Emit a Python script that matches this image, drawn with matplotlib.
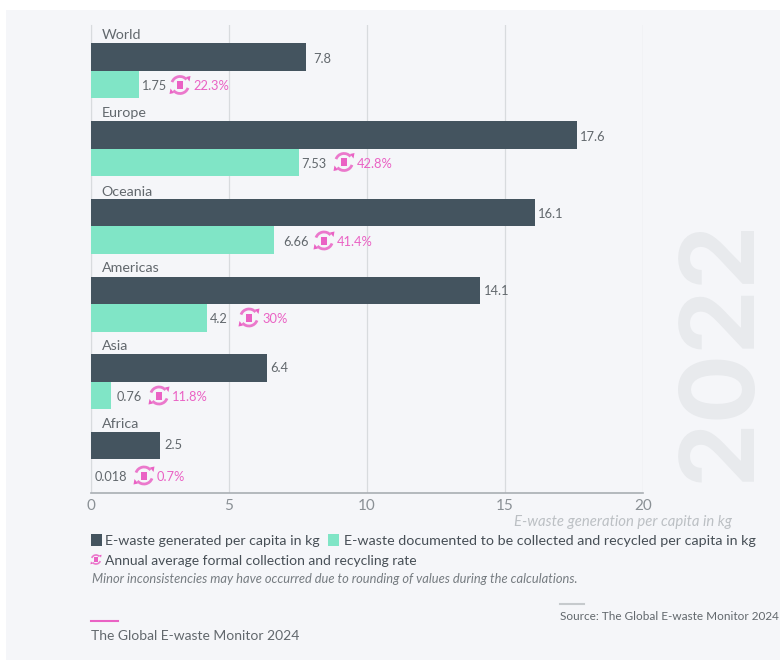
import matplotlib
matplotlib.use('Agg')
import matplotlib.pyplot as plt
from matplotlib.patches import Arc, Rectangle, Polygon

regions = ['World', 'Europe', 'Oceania', 'Americas', 'Asia', 'Africa']
generated = [7.8, 17.6, 16.1, 14.1, 6.4, 2.5]
documented = [1.75, 7.53, 6.66, 4.2, 0.76, 0.018]
doc_labels = ['1.75', '7.53', '6.66', '4.2', '0.76', '0.018']
rates = ['22.3%', '42.8%', '41.4%', '30%', '11.8%', '0.7%']
xticks = [0, 5, 10, 15, 20]

DARK = '#44545f'
TEAL = '#80e5c6'
PINK = '#ea62c4'
TEXT = '#62686d'
BG = '#f5f6f9'
W, H = 780, 661

plt.rcParams['font.family'] = ['Lato', 'DejaVu Sans']

fig = plt.figure(figsize=(W / 100, H / 100), dpi=100, facecolor='white')

# everything that is not a data mark is placed in pixel coordinates
over = fig.add_axes([0, 0, 1, 1], zorder=3)
over.set_xlim(0, W)
over.set_ylim(H, 0)
over.axis('off')
over.patch.set_alpha(0)

back = fig.add_axes([0, 0, 1, 1], zorder=0)
back.set_xlim(0, W)
back.set_ylim(H, 0)
back.axis('off')
back.add_patch(Rectangle((6, 10), W - 6, 650, fc=BG, ec='none'))
back.text(722, 350, '2022', rotation=90, fontsize=74, fontweight='bold',
          color='#e8eaed', ha='center', va='center', family='Inter')

left, right, top, bottom = 90.5, 643, 25, 492.5
ax = fig.add_axes([left / W, 1 - bottom / H, (right - left) / W, (bottom - top) / H], zorder=2)
ax.patch.set_alpha(0)

rows = list(range(len(regions)))
h = 0.354
ax.barh([r - h / 2 for r in rows], generated, height=h, color=DARK, zorder=3)
ax.barh([r + h / 2 for r in rows], documented, height=h, color=TEAL, zorder=3)
ax.set_xlim(0, 20)
ax.set_ylim(5.425, -0.59)
ax.set_xticks(xticks)
ax.set_xticklabels(xticks, fontsize=11, color='#8a9095')
ax.set_yticks([])
ax.tick_params(axis='x', length=0, pad=5)
ax.grid(axis='x', color='#d8dbde', lw=0.9, zorder=0)
for s in ['top', 'right']:
    ax.spines[s].set_visible(False)
ax.spines['left'].set_color('#d8dbde')
ax.spines['bottom'].set_color('#a9aeb3')
ax.spines['bottom'].set_linewidth(1.2)


def recycle_icon(a, cx, cy, r=8.5, lw=2.0):
    # ring of two arcs with arrow heads and a filled square in the middle
    s = r / 8.5
    a.add_patch(Arc((cx, cy), 2 * r, 2 * r, theta1=20, theta2=140, color=PINK, lw=lw, alpha=0.85))
    a.add_patch(Arc((cx, cy), 2 * r, 2 * r, theta1=200, theta2=320, color=PINK, lw=lw, alpha=0.85))
    a.add_patch(Polygon([(cx + 6 * s, cy - 8 * s), (cx + 10.5 * s, cy - 9 * s), (cx + 9.5 * s, cy - 3.5 * s)],
                        fc=PINK, ec='none'))
    a.add_patch(Polygon([(cx - 6 * s, cy + 8 * s), (cx - 10.5 * s, cy + 9 * s), (cx - 9.5 * s, cy + 3.5 * s)],
                        fc=PINK, ec='none'))
    a.add_patch(Rectangle((cx - 3.2 * s, cy - 4 * s), 6.4 * s, 8 * s, fc=PINK, ec='none'))


# pixel positions of the labels in each row
gen_offset = [7, 3, 3, 4, 3, 5]
doc_x = [141, 301, 283, 210, 117, 95]
icon_x = [180, 344, 324, 249, 159, 144]
rate_x = [193, 357, 337, 262, 172, 157]
row_y = [86.5, 163.5, 242, 319, 397, 477]
gen_y = [59, 137, 214, 291, 368, 445]
name_y = [35, 113, 192, 268, 346, 424]

for i, name in enumerate(regions):
    over.text(101.5, name_y[i], name, fontsize=10.3, color=TEXT, va='center')
    over.text(left + generated[i] * 27.63 + gen_offset[i], gen_y[i], str(generated[i]), fontsize=9.3,
              color=TEXT, va='center')
    over.text(doc_x[i], row_y[i], doc_labels[i], fontsize=9.2, color=TEXT, va='center')
    recycle_icon(over, icon_x[i], row_y[i] - 1.5)
    over.text(rate_x[i], row_y[i], rates[i], fontsize=9.3, color=PINK, va='center')

over.text(732, 522, 'E-waste generation per capita in kg', fontsize=10.7, style='italic',
          color='#bcc0c4', ha='right', va='center')
over.add_patch(Rectangle((91, 534), 11, 12, fc=DARK, ec='none'))
over.text(105, 541, 'E-waste generated per capita in kg', fontsize=10.15, color='#474f56', va='center')
over.add_patch(Rectangle((328, 534), 11, 12, fc=TEAL, ec='none'))
over.text(344, 541, 'E-waste documented to be collected and recycled per capita in kg', fontsize=10.25,
          color='#474f56', va='center')
recycle_icon(over, 96, 559.5, r=4.5, lw=1.2)
over.text(105, 561, 'Annual average formal collection and recycling rate', fontsize=10,
          color='#474f56', va='center')
over.text(92, 579, 'Minor inconsistencies may have occurred due to rounding of values during the calculations.',
          fontsize=9.25, style='italic', color='#767c81', va='center')
over.plot([560, 584], [604, 604], color='#c6cacd', lw=1.5)
over.text(560, 616, 'Source: The Global E-waste Monitor 2024', fontsize=8.45, color=TEXT, va='center')
over.plot([90.5, 118], [621, 621], color=PINK, lw=1.5)
over.text(91, 636, 'The Global E-waste Monitor 2024', fontsize=10, color=TEXT, va='center')

fig.savefig('out.png', dpi=100)
